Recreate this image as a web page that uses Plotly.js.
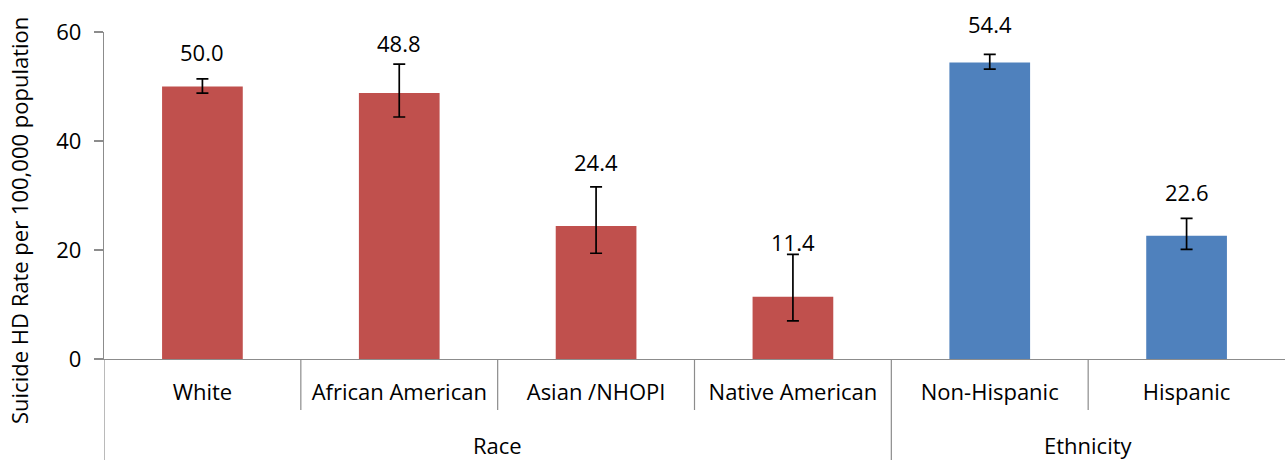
<!DOCTYPE html>
<html>
<head>
<meta charset="utf-8">
<script src="https://cdn.plot.ly/plotly-3.0.1.min.js"></script>
<style>html,body{margin:0;padding:0;background:#fff;}</style>
</head>
<body>
<div id="chart" style="width:1285px;height:460px;"></div>
<script>
// ---- data ----
const categories = ["White", "African American", "Asian /NHOPI", "Native American", "Non-Hispanic", "Hispanic"];
const groups = ["Race", "Race", "Race", "Race", "Ethnicity", "Ethnicity"];
const rates = [50.0, 48.8, 24.4, 11.4, 54.4, 22.6];
const ciUpper = [51.4, 54.1, 31.6, 19.2, 55.9, 25.8];
const ciLower = [48.8, 44.4, 19.4, 7.0, 53.2, 20.1];
const labels = ["50.0", "48.8", "24.4", "11.4", "54.4", "22.6"];
const yTicks = [0, 20, 40, 60];

// ---- styling ----
const groupColors = { "Race": "#C0504D", "Ethnicity": "#4F81BD" };
const labelLift = [27, 21, 25, 12, 30, 26];
const FONT = "Open Sans, Liberation Sans, sans-serif";
const gray = "#8c8c8c";
const FS = 22;

const errPlus = rates.map((v, i) => +(ciUpper[i] - v).toFixed(2));
const errMinus = rates.map((v, i) => +(v - ciLower[i]).toFixed(2));

const trace = {
  type: "bar",
  x: categories,
  y: rates,
  width: 0.41,
  marker: { color: groups.map(g => groupColors[g]) },
  error_y: {
    type: "data", symmetric: false,
    array: errPlus, arrayminus: errMinus,
    color: "#000", thickness: 1.7, width: 6
  },
  hoverinfo: "x+y"
};

const shapes = [];
// inner dividers between categories within a group
[0.5, 1.5, 2.5, 4.5].forEach(xv => shapes.push({
  type: "line", xref: "x", yref: "paper", x0: xv, x1: xv, y0: 0, y1: -0.156,
  line: { color: gray, width: 1.2 }
}));
// group dividers (full depth)
[-0.5, 3.5].forEach(xv => shapes.push({
  type: "line", xref: "x", yref: "paper", x0: xv, x1: xv, y0: 0, y1: -0.31,
  line: { color: gray, width: 1.2 }
}));

const annotations = [];
categories.forEach((c, i) => annotations.push({
  x: c, y: ciUpper[i], xref: "x", yref: "y",
  text: labels[i], showarrow: false, yanchor: "middle", yshift: labelLift[i],
  font: { family: FONT, size: FS, color: "#000" }
}));
annotations.push({ x: 1.5, y: -0.263, xref: "x", yref: "paper", text: "Race", showarrow: false,
  yanchor: "middle", font: { family: FONT, size: FS, color: "#000" } });
annotations.push({ x: 4.5, y: -0.263, xref: "x", yref: "paper", text: "Ethnicity", showarrow: false,
  yanchor: "middle", font: { family: FONT, size: FS, color: "#000" } });
annotations.push({ x: -0.072, y: 0.425, xref: "paper", yref: "paper", xanchor: "center", yanchor: "middle",
  text: "Suicide HD Rate per 100,000 population", textangle: -90, showarrow: false,
  font: { family: FONT, size: 22, color: "#000" } });

const layout = {
  width: 1285, height: 460,
  margin: { l: 104, r: 0, t: 32, b: 101 },
  paper_bgcolor: "#fff", plot_bgcolor: "#fff",
  showlegend: false,
  font: { family: FONT, color: "#000" },
  xaxis: {
    type: "category", range: [-0.5, 5.5], fixedrange: true,
    showline: true, linecolor: gray, linewidth: 1.2,
    ticks: "", showgrid: false, zeroline: false,
    tickfont: { family: FONT, size: FS, color: "#000" },
    ticklabelstandoff: 13
  },
  yaxis: {
    range: [0, 60], tickvals: yTicks, ticktext: yTicks.map(String),
    showline: true, linecolor: gray, linewidth: 1.2,
    ticks: "outside", ticklen: 9, tickcolor: gray, tickwidth: 1.2,
    showgrid: false, zeroline: false,
    tickfont: { family: FONT, size: FS, color: "#000" },
    ticklabelstandoff: 8
  },
  shapes: shapes,
  annotations: annotations
};

Plotly.newPlot("chart", [trace], layout, { displayModeBar: false, staticPlot: true });
</script>
</body>
</html>
